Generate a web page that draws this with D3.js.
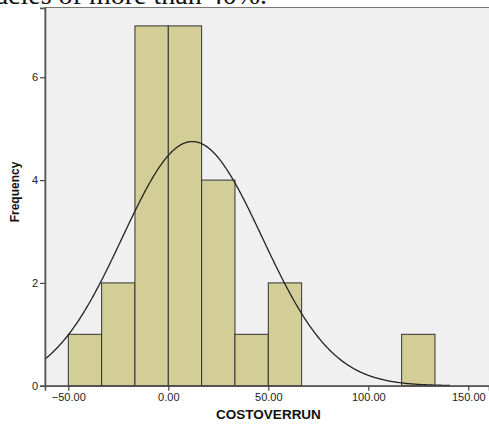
<!DOCTYPE html>
<meta charset="utf-8">
<style>
body { margin: 0; background: #fff; }
text { font-family: "Liberation Sans", Arial, sans-serif; }
</style>
<body>
<script src="https://d3js.org/d3.v7.min.js"></script>
<script>

var width = 489, height = 428;

// histogram bins (lower edge, upper edge, count)
var binStart = [-50, -33.33, -16.67, 0, 16.67, 33.33, 50, 116.67];
var binEnd   = [-33.33, -16.67, 0, 16.67, 33.33, 50, 66.67, 133.33];
var counts   = [1, 2, 7, 7, 4, 1, 2, 1];

var xTicks = [-50, 0, 50, 100, 150];
var yTicks = [0, 2, 4, 6];

// normal curve parameters
var mean = 12, sd = 35, n = 25, binWidth = 16.67;

var x = d3.scaleLinear().domain([-61.65, 160.35]).range([45, 489]);
var y = d3.scaleLinear().domain([0, 7.35]).range([385.7, 7.9]);

var svg = d3.select("body").append("svg")
    .attr("width", width)
    .attr("height", height);

// cropped caption line from the page above
svg.append("text")
    .attr("x", 267).attr("y", 4)
    .attr("text-anchor", "end")
    .style("font-family", "'Liberation Serif', 'Times New Roman', serif")
    .style("font-size", "28px")
    .attr("fill", "#111")
    .text("inaccuracies of more than 40%.");

// plot background
svg.append("rect")
    .attr("x", 45).attr("y", 7.5)
    .attr("width", 445).attr("height", 378.2)
    .attr("fill", "#f0f0f0")
    .attr("stroke", "#777")
    .attr("stroke-width", 1);

svg.selectAll(".bar")
  .data(counts)
  .enter()
  .append("rect")
  .attr("x", function(d, i){ return x(binStart[i]); })
  .attr("y", function(d){ return y(d); })
  .attr("width", function(d, i){ return x(binEnd[i]) - x(binStart[i]); })
  .attr("height", function(d){ return y(0) - y(d); })
  .attr("fill", "#d3ce98")
  .attr("stroke", "#333")
  .attr("stroke-width", 1);

var pts = d3.range(-61.65, 141, 0.5).map(function(v){
  var z = (v - mean) / sd;
  return [v, n * binWidth / (sd * Math.sqrt(2 * Math.PI)) * Math.exp(-z * z / 2)];
});

svg.append("path")
  .datum(pts)
  .attr("d", d3.line().x(function(d){ return x(d[0]); }).y(function(d){ return y(d[1]); }))
  .attr("fill", "none")
  .attr("stroke", "#222")
  .attr("stroke-width", 1.3);

var xAxis = svg.append("g")
  .attr("transform", "translate(0," + y(0) + ")")
  .call(d3.axisBottom(x).tickValues(xTicks).tickSize(5).tickPadding(3)
        .tickFormat(d3.format(".2f")));

var yAxis = svg.append("g")
  .attr("transform", "translate(45,0)")
  .call(d3.axisLeft(y).tickValues(yTicks).tickSize(5).tickPadding(2));

[xAxis, yAxis].forEach(function(g){
  g.select(".domain").attr("stroke", "#555").attr("stroke-width", 1.6);
  g.selectAll(".tick line").attr("stroke", "#444").attr("stroke-width", 1.2);
  g.selectAll(".tick text").attr("fill", "#222")
    .style("font-size", "11px")
    .style("font-family", "'Liberation Sans', Arial, sans-serif");
});

svg.append("text")
  .attr("x", 268.5).attr("y", 419)
  .attr("text-anchor", "middle")
  .style("font-size", "13.5px")
  .style("font-weight", "bold")
  .attr("fill", "#111")
  .text("COSTOVERRUN");

svg.append("text")
  .attr("transform", "translate(19,192) rotate(-90)")
  .attr("text-anchor", "middle")
  .style("font-size", "12px")
  .style("font-weight", "bold")
  .attr("fill", "#111")
  .text("Frequency");

</script>
